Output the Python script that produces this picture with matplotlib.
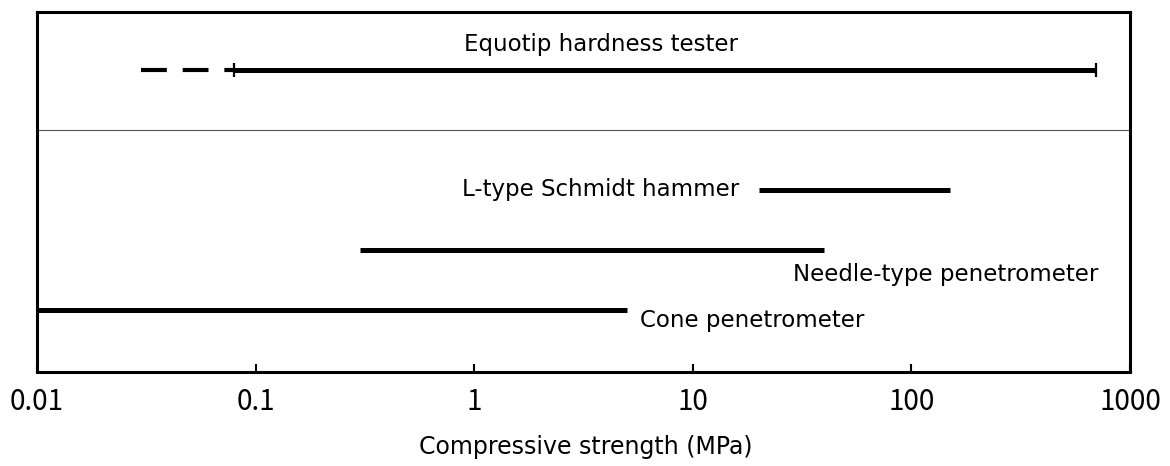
import numpy as np
import matplotlib
matplotlib.use("Agg")
from matplotlib import pyplot as plt

plt.rcParams['font.family'] = ['DejaVu Sans']

# ranges of compressive strength (MPa) for each tester
names = ["Equotip hardness tester", "L-type Schmidt hammer",
         "Needle-type penetrometer", "Cone penetrometer"]
range_lo = [0.08, 20, 0.3, 0.01]
range_hi = [700, 150, 40, 5]
equotip_dashed = [0.03, 0.08]
rows = [0.839, 0.506, 0.339, 0.172]
ticks = [0.01, 0.1, 1, 10, 100, 1000]
tick_labels = ["0.01", "0.1", "1", "10", "100", "1000"]

fig = plt.figure(figsize=(11.7, 4.66), dpi=100)
ax = fig.add_axes([0.0316, 0.2017, 0.9342, 0.7723])
ax.set_xscale("log")
ax.set_xlim(0.01, 1000)
ax.set_ylim(0, 1)

# equotip: dashed extension + solid range with end bars
ax.plot(equotip_dashed, [rows[0]] * 2, color="black", lw=3.0,
        dashes=(6.2, 3.8), solid_capstyle="butt", dash_capstyle="butt")
ax.plot([range_lo[0], range_hi[0]], [rows[0]] * 2, color="black", lw=3.6,
        solid_capstyle="butt")
ax.plot([range_lo[0], range_hi[0]], [rows[0]] * 2, ls="none", marker="|",
        ms=10, mew=1.6, color="black")
ax.axhline(0.672, color="#555555", lw=0.8)

for i in range(1, 4):
    ax.plot([range_lo[i], range_hi[i]], [rows[i]] * 2, color="black", lw=3.6,
            solid_capstyle="butt")

fs = 16.5
ax.text(3.8, 0.911, names[0], ha="center", va="center", fontsize=fs)
ax.text(16.4, rows[1], names[1], ha="right", va="center", fontsize=fs)
ax.text(28.7, 0.272, names[2], ha="left", va="center", fontsize=fs)
ax.text(5.73, 0.144, names[3], ha="left", va="center", fontsize=fs)

ax.set_yticks([])
ax.set_xticks(ticks)
ax.set_xticklabels(tick_labels, fontsize=20, family=['Noto Sans CJK JP'])
ax.minorticks_off()
ax.tick_params(axis="x", direction="in", length=6, width=1.5, pad=11)
for s in ax.spines.values():
    s.set_linewidth(2.2)
ax.set_xlabel("Compressive strength (MPa)", fontsize=17)
ax.xaxis.set_label_coords(0.5025, -0.175)

fig.savefig("out.png", dpi=100)
